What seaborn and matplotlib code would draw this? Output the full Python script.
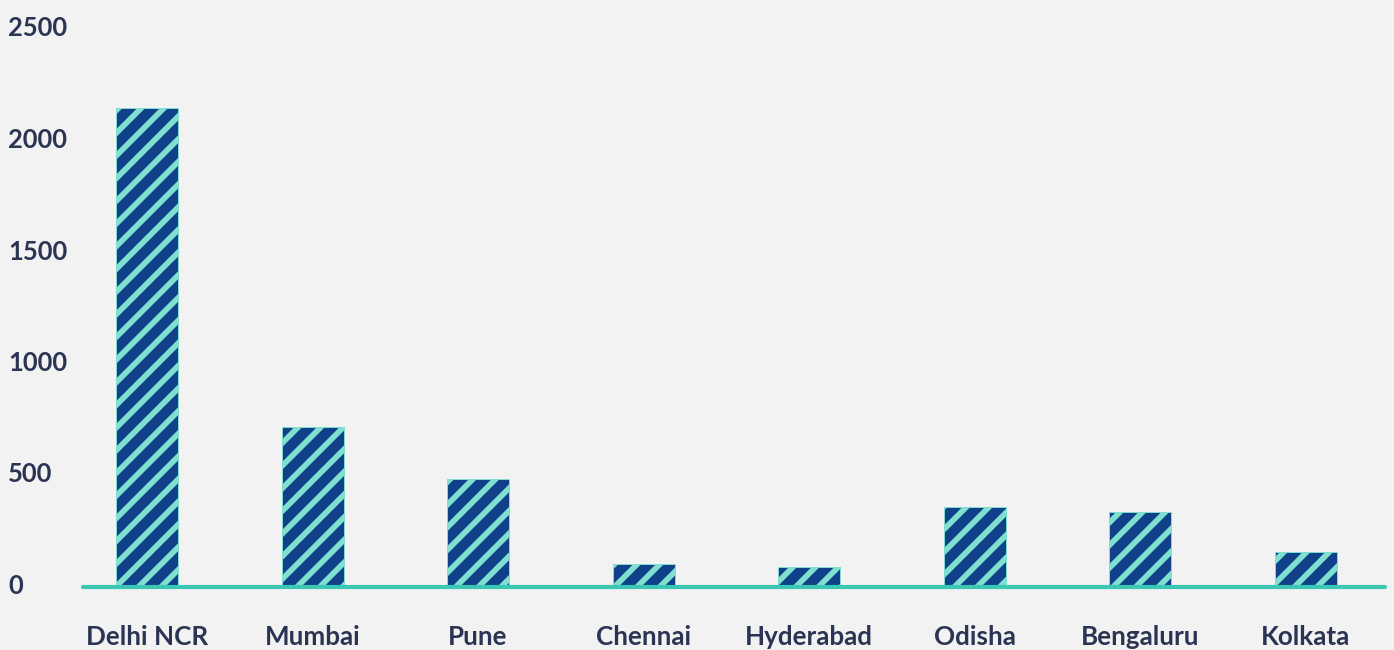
import seaborn as sns
import matplotlib.pyplot as plt
import matplotlib.transforms as mtransforms
import pandas as pd

# values
cities = ["Delhi NCR", "Mumbai", "Pune", "Chennai", "Hyderabad", "Odisha", "Bengaluru", "Kolkata"]
counts = [2150, 718, 484, 102, 88, 359, 336, 158]
y_ticks = [0, 500, 1000, 1500, 2000, 2500]

df = pd.DataFrame({"City": cities, "Count": counts})

navy = "#10408a"
aqua = "#7fe0d0"
teal = "#3cc6b4"
text_col = "#2b3553"
paper = "#f2f2f2"

sns.set_style("white")
plt.rcParams["font.family"] = ["Lato", "DejaVu Sans"]
plt.rcParams["hatch.linewidth"] = 3.0

DPI = 136
fig = plt.figure(figsize=(1394 / DPI, 650 / DPI), dpi=DPI, facecolor=paper)
ax = fig.add_axes([83 / 1394, 1 - 587 / 650, (1385 - 83) / 1394, (587 - 29.5) / 650])
ax.set_facecolor(paper)

sns.barplot(data=df, x="City", y="Count", color=navy, width=0.375, saturation=1, ax=ax)

for bar in ax.patches:
    bar.set_facecolor(navy)
    bar.set_edgecolor(aqua)
    bar.set_linewidth(0.5)
    bar.set_hatch("//")

# baseline
ax.axhline(0, color=teal, lw=2.2, zorder=5, clip_on=False)

ax.set_xlim(-0.387, 7.48)
ax.set_ylim(0, 2500)
ax.set_yticks(y_ticks)
ax.set_yticklabels([str(v) for v in y_ticks])
sns.despine(ax=ax, left=True, bottom=True)

# y labels sit flush left near the figure edge, a touch above their ticks
ax.tick_params(axis="y", length=0, pad=75 * 72 / DPI, labelsize=13.5, labelcolor=text_col)
ax.tick_params(axis="x", length=0, pad=20, labelsize=13.8, labelcolor=text_col)
nudge = mtransforms.ScaledTranslation(0, 3 / DPI, fig.dpi_scale_trans)
for lab in ax.get_yticklabels():
    lab.set_horizontalalignment("left")
    lab.set_fontweight("bold")
    lab.set_transform(lab.get_transform() + nudge)
for lab in ax.get_xticklabels():
    lab.set_fontweight("bold")

ax.set_xlabel("")
ax.set_ylabel("")

fig.savefig("out.png", dpi=DPI, facecolor=paper)
